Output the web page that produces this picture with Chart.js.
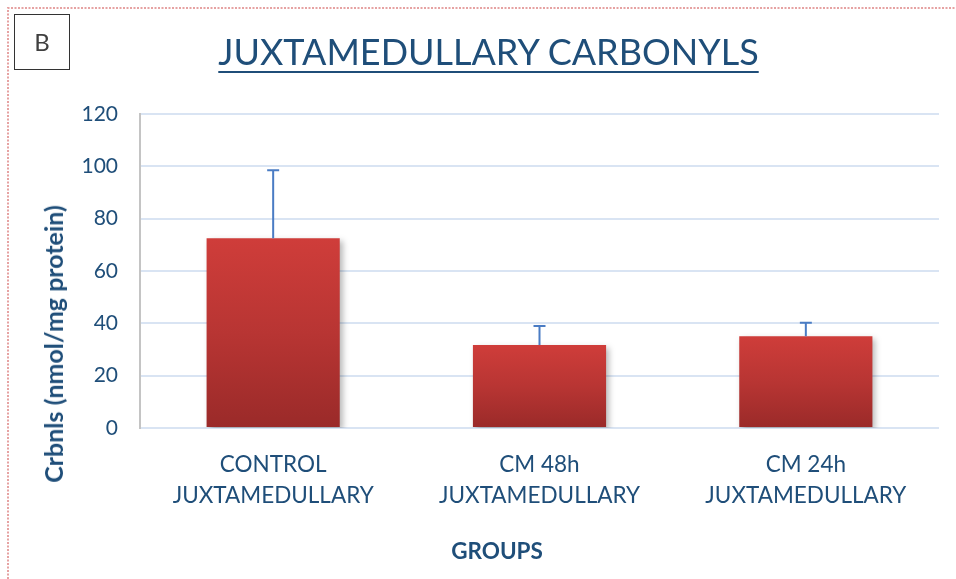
<!DOCTYPE html>
<html>
<head>
<meta charset="utf-8">
<script src="https://cdn.jsdelivr.net/npm/chart.js@4"></script>
<style>
  html, body { margin: 0; padding: 0; background: #fff; }
  #wrap { position: relative; width: 956px; height: 579px; overflow: hidden; font-family: Lato, Carlito, Calibri, sans-serif; }
  #chart { position: absolute; left: 0; top: 0; }
  .panel-tag { position: absolute; left: 14px; top: 14px; width: 54px; height: 54px; border: 1.5px solid #333;
    color: #404040; font-size: 24px; line-height: 54px; text-align: center; }
  .title { position: absolute; left: 0; width: 977px; top: 31px; text-align: center; color: #1f4e79;
    font-size: 36px; line-height: 40px; text-decoration: underline; text-decoration-thickness: 2px; text-underline-offset: 6px; white-space: nowrap; }
  .y-title { position: absolute; left: 53px; top: 344px; transform: translate(-50%, -50%) rotate(-90deg);
    color: #1f4e79; font-size: 25px; font-weight: bold; white-space: nowrap; }
  .x-title { position: absolute; left: 497px; top: 550px; transform: translate(-50%, -50%);
    color: #1f4e79; font-size: 22.5px; font-weight: bold; white-space: nowrap; }
</style>
</head>
<body>
<div id="wrap">
  <canvas id="chart" width="956" height="579"></canvas>
  <div class="panel-tag">B</div>
  <div class="title">JUXTAMEDULLARY CARBONYLS</div>
  <div class="y-title">Crbnls (nmol/mg protein)</div>
  <div class="x-title">GROUPS</div>
</div>
<script>
  // ---- data ----
  const groups = [
    ['CONTROL', 'JUXTAMEDULLARY'],
    ['CM 48h', 'JUXTAMEDULLARY'],
    ['CM 24h', 'JUXTAMEDULLARY']
  ];
  const carbonyls = [72.5, 31.7, 35.1];
  const carbonylsSD = [26, 7.3, 5.1];
  const yTicks = [0, 20, 40, 60, 80, 100, 120];

  const TEXT = '#1f4e79';
  const GRID = '#d9e4f3';

  // dotted frame round the figure
  const framePlugin = {
    id: 'frame',
    beforeDraw(chart) {
      const c = chart.ctx;
      c.save();
      c.strokeStyle = '#e6a2a2';
      c.lineWidth = 2;
      c.setLineDash([2, 1.5]);
      c.beginPath();
      c.moveTo(8, 579);
      c.lineTo(8, 8);
      c.lineTo(956, 8);
      c.stroke();
      c.restore();
    }
  };

  // soft drop shadow under the bars
  const shadowPlugin = {
    id: 'barShadow',
    beforeDatasetsDraw(chart) {
      const c = chart.ctx;
      c.save();
      c.shadowColor = 'rgba(0,0,0,0.28)';
      c.shadowBlur = 6;
      c.shadowOffsetX = 3;
      c.shadowOffsetY = 3;
    },
    afterDatasetsDraw(chart) {
      chart.ctx.restore();
    }
  };

  // upper error bars
  const errorBarPlugin = {
    id: 'errorBars',
    afterDatasetsDraw(chart) {
      const c = chart.ctx;
      const y = chart.scales.y;
      const meta = chart.getDatasetMeta(0);
      c.save();
      c.strokeStyle = '#4a7cc4';
      c.lineWidth = 2;
      meta.data.forEach((bar, i) => {
        const top = y.getPixelForValue(carbonyls[i] + carbonylsSD[i]);
        c.beginPath();
        c.moveTo(bar.x, bar.y);
        c.lineTo(bar.x, top);
        c.moveTo(bar.x - 6, top);
        c.lineTo(bar.x + 6, top);
        c.stroke();
      });
      c.restore();
    }
  };

  function barGradient(ctx) {
    const chart = ctx.chart;
    const y = chart.scales.y;
    if (!chart.chartArea || !y || ctx.raw == null) return '#c0393a';
    const top = y.getPixelForValue(ctx.raw);
    const base = y.getPixelForValue(0);
    if (!isFinite(top) || !isFinite(base) || base === top) return '#c0393a';
    const g = chart.ctx.createLinearGradient(0, top, 0, base);
    g.addColorStop(0, '#cf3d3a');
    g.addColorStop(0.5, '#b83533');
    g.addColorStop(1, '#9a2a29');
    return g;
  }

  Chart.defaults.font.family = 'Lato, Carlito, Calibri, sans-serif';

  new Chart(document.getElementById('chart'), {
    type: 'bar',
    data: {
      labels: groups,
      datasets: [{
        label: 'Carbonyls',
        data: carbonyls,
        backgroundColor: barGradient,
        borderWidth: 0,
        barPercentage: 1,
        categoryPercentage: 0.5
      }]
    },
    options: {
      responsive: false,
      animation: false,
      devicePixelRatio: 1,
      layout: { padding: { left: 0, top: 114, right: 17, bottom: 0 } },
      plugins: { legend: { display: false }, tooltip: { enabled: false }, title: { display: false } },
      scales: {
        x: {
          grid: { display: false },
          border: { display: false },
          ticks: { color: TEXT, font: { size: 22.5, lineHeight: 1.38 }, padding: 13, maxRotation: 0 },
          afterFit(scale) { scale.height = 151; }
        },
        y: {
          min: 0,
          max: yTicks[yTicks.length - 1],
          afterBuildTicks(scale) { scale.ticks = yTicks.map(v => ({ value: v })); },
          grid: { color: GRID, lineWidth: 2, drawTicks: false },
          border: { color: '#c4c4c4', width: 2 },
          ticks: { color: TEXT, font: { size: 21 }, padding: 22 },
          afterFit(scale) { scale.width = 140; }
        }
      }
    },
    plugins: [framePlugin, shadowPlugin, errorBarPlugin]
  });
</script>
</body>
</html>
